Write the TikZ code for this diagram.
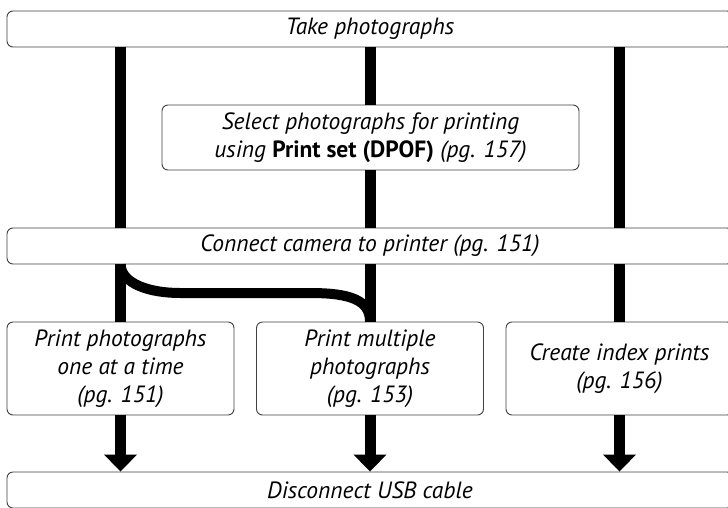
\documentclass[tikz,border=0pt]{standalone}
\usepackage{fontspec}
\setmainfont{PT Sans}
\usetikzlibrary{arrows.meta}

\begin{document}
\begin{tikzpicture}[x=1pt, y=-1pt,
    box/.style={rectangle, draw=black!75, line width=0.9pt, rounded corners=6pt, fill=white, align=center, inner sep=0pt, font=\fontsize{23.5}{28}\selectfont\itshape},
    wide/.style={box, minimum width=726pt, minimum height=36pt},
    task/.style={box, minimum width=227pt, minimum height=93pt},
    flow/.style={line width=11pt},
    flowarrow/.style={flow, -{Triangle[width=32pt, length=17pt]}}
]
    \useasboundingbox (0,0) rectangle (728,507);

    \node[wide] (take) at (370, 29) {Take photographs};
    \node[box, minimum width=417pt, minimum height=65pt] (select) at (370.5, 137.5)
        {Select photographs for printing\\using {\bfseries\upshape Print set (DPOF)} (pg. 157)};
    \node[wide] (connect) at (370, 246) {Connect camera to printer (pg. 151)};

    \node[task] (one) at (120.5, 368.5) {Print photographs\\one at a time\\(pg. 151)};
    \node[task] (multi) at (370, 368.5) {Print multiple\\photographs\\(pg. 153)};
    \node[task] (index) at (619.5, 368.5) {Create index prints\\(pg. 156)};

    \node[wide] (usb) at (370, 490) {Disconnect USB cable};

    \foreach \col in {one, index} {
        \draw[flow] (take.south -| \col) -- (connect.north -| \col);
    }
    \draw[flow] (take.south -| select) -- (select.north);
    \draw[flow] (select.south) -- (connect.north -| select);

    \foreach \col in {one, multi, index} {
        \draw[flow] (connect.south -| \col) -- (\col.north);
        \draw[flowarrow] (\col.south) -- (usb.north -| \col);
    }

    % branch to multiple prints
    \coordinate (bendL) at (180, 293);
    \coordinate (bendR) at (310, 293);
    \draw[line width=10pt] (connect.south -| one) .. controls (121.5, 284) and (150, 293) .. (bendL)
        -- (bendR) .. controls (350, 293) and (370, 300) .. (multi.north);
\end{tikzpicture}
\end{document}
